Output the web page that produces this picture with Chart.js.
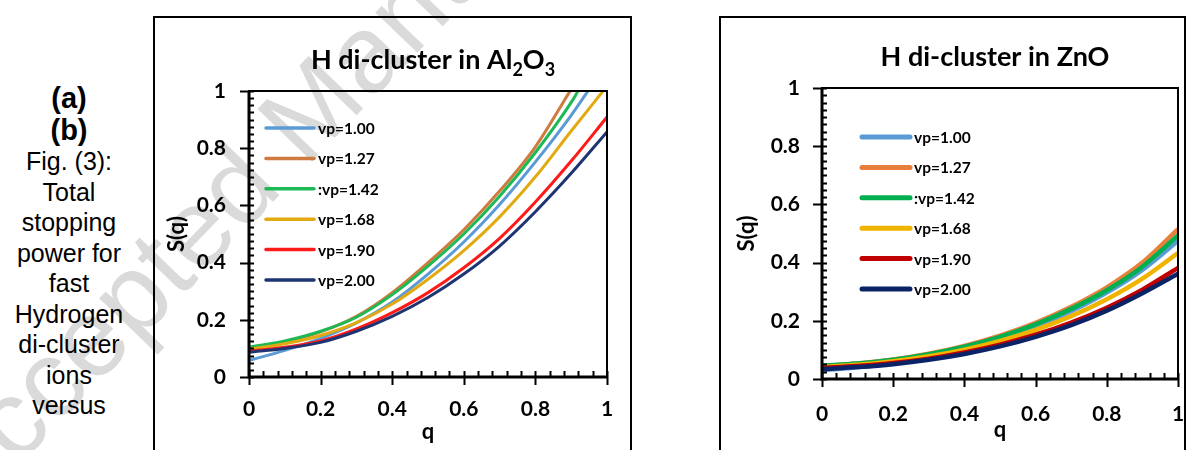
<!DOCTYPE html>
<html>
<head>
<meta charset="utf-8">
<script src="https://cdn.jsdelivr.net/npm/chart.js@4.4.1/dist/chart.umd.min.js"></script>
<style>
    body { margin: 0; width: 1187px; height: 450px; overflow: hidden; background: #fff; position: relative; font-family: "Liberation Sans", Arial, sans-serif; }
    .caption { position: absolute; left: 0; top: 83px; width: 138px; text-align: center; font-size: 25px; line-height: 30.5px; color: #000; z-index: 2; }
    .caption b { font-size: 29px; }
    .panel { position: absolute; top: 16px; border: 2px solid #000; border-bottom: none; z-index: 1; }
    #panelA { left: 153px; width: 475px; height: 434px; }
    #panelB { left: 719px; width: 463px; height: 434px; }
    canvas { display: block; }
    .watermark { position: absolute; left: -34px; top: 427px; font-size: 110px; line-height: 1; color: #dadada; white-space: nowrap; transform-origin: 0 93px; transform: rotate(-46deg); z-index: 0; }
</style>
</head>
<body>
<div class="watermark">Accepted Manuscript</div>
<div class="caption"><b>(a)</b><br><b>(b)</b><br>Fig. (3):<br>Total<br>stopping<br>power for<br>fast<br>Hydrogen<br>di-cluster<br>ions<br>versus</div>
<div class="panel" id="panelA"><canvas id="chartA" width="475" height="432"></canvas></div>
<div class="panel" id="panelB"><canvas id="chartB" width="463" height="432"></canvas></div>
<script>
const qGrid = [0, 0.1, 0.2, 0.3, 0.4, 0.5, 0.6, 0.7, 0.8, 0.9, 1.0];
const seriesLabels = ["vp=1.00", "vp=1.27", ":vp=1.42", "vp=1.68", "vp=1.90", "vp=2.00"];
const xTickLabels = ["0", "0.2", "0.4", "0.6", "0.8", "1"];
const yTickLabels = ["0", "0.2", "0.4", "0.6", "0.8", "1"];

// (a) H di-cluster in Al2O3
const al_vp100 = [0.058, 0.093, 0.135, 0.189, 0.262, 0.360, 0.472, 0.603, 0.752, 0.915, null];
const al_vp127 = [0.100, 0.123, 0.158, 0.212, 0.295, 0.400, 0.515, 0.650, 0.805, null, null];
const al_vp142 = [0.104, 0.126, 0.160, 0.209, 0.288, 0.388, 0.500, 0.632, 0.785, 0.960, null];
const al_vp168 = [0.097, 0.116, 0.145, 0.190, 0.255, 0.342, 0.442, 0.560, 0.700, 0.860, null];
const al_vp190 = [0.090, 0.104, 0.126, 0.168, 0.225, 0.295, 0.382, 0.485, 0.612, 0.755, 0.909];
const al_vp200 = [0.087, 0.100, 0.121, 0.160, 0.212, 0.278, 0.360, 0.458, 0.578, 0.712, 0.857];
// q where a curve leaves through the top of the frame (S = 1)
const al_exitQ = [0.947, 0.897, 0.919, 0.989, null, null];

// (b) H di-cluster in ZnO
const zn_vp100 = [0.030, 0.040, 0.055, 0.075, 0.102, 0.137, 0.180, 0.233, 0.297, 0.375, 0.475];
const zn_vp127 = [0.045, 0.053, 0.067, 0.087, 0.114, 0.149, 0.193, 0.248, 0.315, 0.400, 0.515];
const zn_vp142 = [0.046, 0.053, 0.066, 0.085, 0.111, 0.145, 0.188, 0.241, 0.305, 0.386, 0.493];
const zn_vp168 = [0.042, 0.049, 0.061, 0.078, 0.101, 0.131, 0.169, 0.216, 0.274, 0.345, 0.433];
const zn_vp190 = [0.038, 0.045, 0.055, 0.070, 0.091, 0.118, 0.152, 0.194, 0.245, 0.307, 0.382];
const zn_vp200 = [0.034, 0.041, 0.051, 0.066, 0.086, 0.112, 0.145, 0.185, 0.235, 0.295, 0.362];

const colorsA = ["#5b9bd5", "#cf7a3e", "#1db954", "#e2aa10", "#ff1a1a", "#1f3572"];
const colorsB = ["#5b9bd5", "#e8803c", "#00b050", "#f0b400", "#c00000", "#0a2366"];

const FONT = "Lato, 'Open Sans', sans-serif";

function points(values, exitQ) {
    const pts = [];
    qGrid.forEach((q, i) => {
        if (values[i] === null) return;
        if (exitQ && q > exitQ) return;
        pts.push({ x: q, y: values[i] });
    });
    if (exitQ) pts.push({ x: exitQ, y: 1 });
    return pts;
}

// frame + Excel style tick marks (major cross the axis, minor point inwards)
const frameTicks = {
    id: "frameTicks",
    afterDatasetsDraw(chart) {
        const { ctx, chartArea: a, scales: { x, y } } = chart;
        ctx.save();
        ctx.strokeStyle = "#000";
        ctx.lineWidth = 2;
        ctx.strokeRect(a.left, a.top, a.right - a.left, a.bottom - a.top);
        ctx.lineWidth = 3;
        ctx.beginPath();
        ctx.moveTo(a.left, a.top);
        ctx.lineTo(a.left, a.bottom);
        ctx.lineTo(a.right, a.bottom);
        ctx.stroke();
        ctx.lineWidth = 2;
        ctx.beginPath();
        for (let i = 0; i <= 40; i++) {
            const py = Math.round(y.getPixelForValue(i * 0.025)) + 0.5;
            ctx.moveTo(a.left - (i % 8 === 0 ? 9 : 0), py);
            ctx.lineTo(a.left + 5, py);
        }
        for (let i = 0; i <= 25; i++) {
            const px = Math.round(x.getPixelForValue(i * 0.04)) + 0.5;
            ctx.moveTo(px, a.bottom + (i % 5 === 0 ? 8 : 0));
            ctx.lineTo(px, a.bottom - 6);
        }
        ctx.stroke();
        ctx.restore();
    },
};

// legend drawn inside the plot, line sample then label
const insideLegend = {
    id: "insideLegend",
    afterDraw(chart, args, o) {
        const ctx = chart.ctx;
        ctx.save();
        ctx.font = "bold 15.5px " + FONT;
        ctx.textBaseline = "middle";
        chart.data.datasets.forEach((ds, i) => {
            const yy = o.top + i * o.step;
            ctx.strokeStyle = ds.borderColor;
            ctx.lineWidth = o.lineWidth;
            ctx.lineCap = "round";
            ctx.beginPath();
            ctx.moveTo(o.left, yy);
            ctx.lineTo(o.left + 48, yy);
            ctx.stroke();
            ctx.fillStyle = "#000";
            ctx.fillText(ds.label, o.left + 52, yy + 1);
        });
        ctx.restore();
    },
};

// title with subscripts
const subTitle = {
    id: "subTitle",
    afterDraw(chart, args, o) {
        const ctx = chart.ctx;
        ctx.save();
        ctx.fillStyle = "#000";
        ctx.textBaseline = "alphabetic";
        const big = "bold 27px " + FONT, small = "bold 18px " + FONT;
        let w = 0;
        o.parts.forEach(([t, sub]) => { ctx.font = sub ? small : big; w += ctx.measureText(t).width; });
        let xx = o.cx - w / 2;
        o.parts.forEach(([t, sub]) => {
            ctx.font = sub ? small : big;
            ctx.fillText(t, xx, o.cy + 9 + (sub ? 7 : 0));
            xx += ctx.measureText(t).width;
        });
        ctx.restore();
    },
};

function makeChart(id, series, colors, exits, lw, L) {
    return new Chart(document.getElementById(id), {
        type: "line",
        data: {
            datasets: series.map((vals, i) => ({
                label: seriesLabels[i],
                data: points(vals, exits ? exits[i] : null),
                borderColor: colors[i],
                backgroundColor: colors[i],
                borderWidth: lw,
                pointRadius: 0,
                cubicInterpolationMode: "monotone",
                order: series.length - i,
            })),
        },
        options: {
            responsive: false,
            animation: false,
            events: [],
            layout: { padding: { top: L.top, right: L.right, left: 0, bottom: 0 } },
            plugins: {
                legend: { display: false },
                tooltip: { enabled: false },
                insideLegend: L.legend,
                subTitle: L.title,
            },
            scales: {
                x: {
                    type: "linear",
                    min: 0,
                    max: 1,
                    afterFit: (s) => { s.height = L.xh; s.paddingLeft = 0; s.paddingRight = 0; },
                    grid: { display: false, drawTicks: false },
                    border: { display: false },
                    ticks: {
                        stepSize: 0.2,
                        padding: L.xpad,
                        color: "#000",
                        font: { family: FONT, size: 21, weight: "bold" },
                        callback: (v, i) => xTickLabels[i],
                    },
                    title: { display: true, text: "q", color: "#000", font: { family: FONT, size: 22, weight: "bold" }, padding: { top: 0, bottom: L.qpad } },
                },
                y: {
                    min: 0,
                    max: 1,
                    afterFit: (s) => { s.width = L.yw; },
                    grid: { display: false, drawTicks: false },
                    border: { display: false },
                    ticks: {
                        stepSize: 0.2,
                        padding: L.ypad,
                        color: "#000",
                        font: { family: FONT, size: 21, weight: "bold" },
                        callback: (v, i) => yTickLabels[i],
                    },
                    title: { display: true, text: "S(q)", color: "#000", font: { family: FONT, size: 22, weight: "bold" }, padding: { top: L.spad, bottom: 0 } },
                },
            },
        },
        plugins: [frameTicks, insideLegend, subTitle],
    });
}

makeChart("chartA", [al_vp100, al_vp127, al_vp142, al_vp168, al_vp190, al_vp200], colorsA, al_exitQ, 3, {
    top: 73, right: 23, xh: 73, yw: 94, xpad: 20, ypad: 23, qpad: 5, spad: 9,
    legend: { left: 111, top: 110, step: 30.4, lineWidth: 3.5 },
    title: { cx: 278, cy: 42, parts: [["H di-cluster in Al", 0], ["2", 1], ["O", 0], ["3", 1]] },
});

makeChart("chartB", [zn_vp100, zn_vp127, zn_vp142, zn_vp168, zn_vp190, zn_vp200], colorsB, null, 4.5, {
    top: 70, right: 6, xh: 71, yw: 101, xpad: 23, ypad: 22, qpad: 7, spad: 13,
    legend: { left: 141, top: 119, step: 30.4, lineWidth: 5 },
    title: { cx: 274, cy: 39, parts: [["H di-cluster in ZnO", 0]] },
});
</script>
</body>
</html>
